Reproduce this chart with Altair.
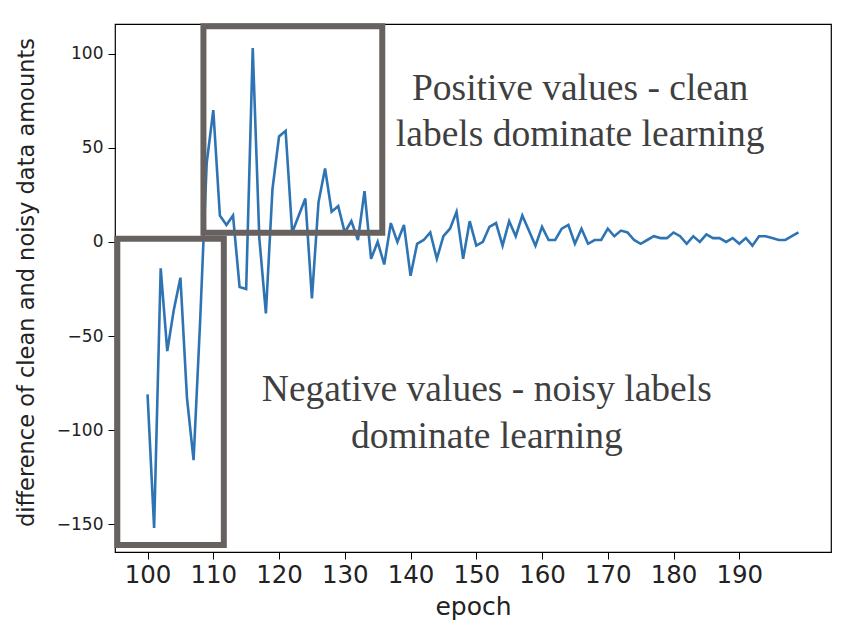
import altair as alt
import pandas as pd

epochs = list(range(100, 200))
diff_values = [
    -81, -152, -14, -58, -36, -19, -83, -116, -42, 42,
    70, 14, 9, 14, -24, -25, 103, 2, -38, 28,
    56, 59, 5, 14, 23, -30, 21, 39, 16, 19,
    5, 11, 1, 27, -9, 0, -12, 10, 0, 9,
    -18, -1, 1, 5, -9, 3, 7, 16, -9, 11,
    -2, 0, 8, 10, -2, 11, 3, 14, 6, -2,
    8, 1, 1, 7, 9, -1, 7, -1, 1, 1,
    7, 3, 6, 5, 1, -1, 1, 3, 2, 2,
    5, 3, -1, 3, 0, 4, 2, 2, 0, 2,
    -1, 2, -2, 3, 3, 2, 1, 1, 3, 5,
]

x_ticks = [100, 110, 120, 130, 140, 150, 160, 170, 180, 190]
y_ticks = [-150, -100, -50, 0, 50, 100]

# annotation boxes in data units (epoch, value)
box_x1 = [108.5, 95.4]
box_x2 = [135.7, 111.6]
box_y1 = [114.6, 1.6]
box_y2 = [4.8, -161.0]

# annotation text lines, anchored in data units
note_text = ["Positive values - clean", "labels dominate learning",
             "Negative values - noisy labels", "dominate learning"]
note_x = [165.8, 165.8, 151.6, 151.6]
note_y = [75.2, 50.7, -84.6, -109.4]

line_df = pd.DataFrame({"epoch": epochs, "diff": diff_values})
box_df = pd.DataFrame({"x1": box_x1, "x2": box_x2, "y1": box_y1, "y2": box_y2})
note_df = pd.DataFrame({"t": note_text, "x": note_x, "y": note_y})

xs = alt.Scale(domain=[95.05, 203.95], nice=False, zero=False)
ys = alt.Scale(domain=[-164.75, 115.75], nice=False, zero=False)

x_axis = alt.Axis(values=x_ticks, title="epoch", grid=False, domain=False,
                  tickSize=7, tickColor="black", labelFont="DejaVu Sans",
                  labelFontSize=24.5, labelColor="#222222", labelPadding=4,
                  labelFlush=False, labelOverlap=False,
                  titleFont="DejaVu Sans", titleFontSize=25, titleFontWeight="normal",
                  titleColor="#222222", titleY=62, titleBaseline="alphabetic")
y_axis = alt.Axis(values=y_ticks, title="difference of clean and noisy data amounts",
                  grid=False, domain=False, tickSize=7, tickColor="black",
                  labelFont="DejaVu Sans", labelFontSize=17, labelColor="#222222",
                  labelPadding=5, labelFlush=False, labelOverlap=False,
                  labelExpr="replace(format(datum.value, 'd'), '-', '\u2212')",
                  titleFont="DejaVu Sans", titleFontSize=22.5, titleFontWeight="normal",
                  titleColor="#222222", titleAngle=-90, titleX=-82, titleY=258,
                  titleAlign="center", titleBaseline="alphabetic")

line = alt.Chart(line_df).mark_line(color="#2e74b5", strokeWidth=2.6).encode(
    x=alt.X("epoch:Q", scale=xs, axis=x_axis),
    y=alt.Y("diff:Q", scale=ys, axis=y_axis),
)

boxes = alt.Chart(box_df).mark_rect(filled=False, stroke="#67625f", strokeWidth=6).encode(
    x=alt.X("x1:Q", scale=xs), x2="x2:Q",
    y=alt.Y("y1:Q", scale=ys), y2="y2:Q",
)

notes = alt.Chart(note_df).mark_text(font="Liberation Serif", fontSize=37.5,
                                      color="#3f3f3f", align="center",
                                      baseline="alphabetic").encode(
    x=alt.X("x:Q", scale=xs), y=alt.Y("y:Q", scale=ys), text="t:N",
)

chart = alt.layer(line, boxes, notes).properties(
    width=716, height=528,
    padding={"left": 107, "top": 16, "right": 10, "bottom": 80},
    autosize=alt.AutoSizeParams(type="none"),
    background="white",
).configure_view(stroke="black", strokeWidth=1.2)

chart.save("out.html", embed_options={"renderer": "svg", "actions": False})
